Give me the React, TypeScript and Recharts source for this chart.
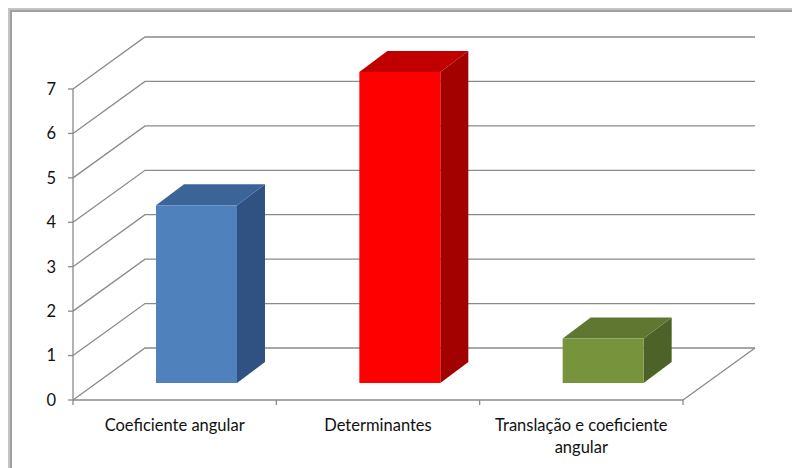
import React from "react";
import { BarChart, Bar, XAxis, YAxis, CartesianGrid, Text } from "recharts";

const categories = ["Coeficiente angular", "Determinantes", "Translação e coeficiente angular"];
const values = [4, 7, 1];
const yTicks = [0, 1, 2, 3, 4, 5, 6, 7];
const frontColors = ["#4F81BD", "#FF0000", "#77933C"];
const topColors = ["#3B6598", "#C00000", "#5F7731"];
const sideColors = ["#2F5283", "#A30000", "#4D6228"];

const data = categories.map((name, i) => ({ name, value: values[i] }));

const W = 792;
const H = 468;
const Y_AXIS_W = 60;
const MARGIN = { top: 89, right: 109, bottom: 28, left: 13 };
const X_AXIS_H = 40;
const PLOT_LEFT = MARGIN.left + Y_AXIS_W;
const PLOT_RIGHT = W - MARGIN.right;
const PLOT_BOTTOM = H - MARGIN.bottom - X_AXIS_H;
const BAND = (PLOT_RIGHT - PLOT_LEFT) / categories.length;

// floor depth
const DX = 72;
const DY = 52;
// bar placement inside depth
const FX = 22;
const FY = 17;
const BDX = 28;
const BDY = 21;

const GRID = "#8A8A8A";
const FONT = "Lato, 'Open Sans', sans-serif";
const FS = 16.5;

const Bar3D = (props: any) => {
  const { x, y, width, height, payload } = props;
  let i = props.index;
  if (typeof i !== "number") i = categories.indexOf(payload?.name);
  const fx = x + FX;
  const fy = y - FY;
  const top = `${fx},${fy} ${fx + BDX},${fy - BDY} ${fx + width + BDX},${fy - BDY} ${fx + width},${fy}`;
  const side = `${fx + width},${fy} ${fx + width + BDX},${fy - BDY} ${fx + width + BDX},${fy + height - BDY} ${fx + width},${fy + height}`;
  return (
    <g>
      <polygon points={side} fill={sideColors[i]} />
      <polygon points={top} fill={topColors[i]} />
      <rect x={fx} y={fy} width={width} height={height} fill={frontColors[i]} />
    </g>
  );
};

const XTick = (props: any) => {
  const { x, payload, index } = props;
  const half = BAND / 2;
  const last = index === categories.length - 1;
  return (
    <g>
      <line x1={x - half} y1={PLOT_BOTTOM} x2={x - half} y2={PLOT_BOTTOM + 5} stroke={GRID} strokeWidth={1.3} />
      {last && (
        <g>
          <line x1={x + half} y1={PLOT_BOTTOM} x2={x + half} y2={PLOT_BOTTOM + 5} stroke={GRID} strokeWidth={1.3} />
          <line x1={x + half} y1={PLOT_BOTTOM} x2={x + half + DX} y2={PLOT_BOTTOM - DY} stroke={GRID} strokeWidth={1.3} />
        </g>
      )}
      <Text
        x={x}
        y={PLOT_BOTTOM + 19}
        width={195}
        textAnchor="middle"
        verticalAnchor="start"
        lineHeight={22}
        fill="#111"
        fontSize={FS}
        fontFamily={FONT}
        style={{ fontSize: FS, fontFamily: FONT }}
      >
        {payload.value}
      </Text>
    </g>
  );
};

const gridLine = (p: any) => {
  const { x1, y1, x2 } = p;
  return (
    <path
      key={`g-${p.index}-${y1}`}
      d={`M${x1},${y1} L${x1 + DX},${y1 - DY} L${x2 + DX},${y1 - DY}`}
      fill="none"
      stroke={GRID}
      strokeWidth={1.3}
    />
  );
};

export default function App() {
  return (
    <div style={{ position: "absolute", left: 0, top: 0, width: W, height: H, background: "#fff", overflow: "hidden" }}>
      <div
        style={{
          position: "absolute",
          left: 8,
          top: 8,
          width: 900,
          height: 600,
          borderLeft: "2px solid #C4C4C4",
          borderTop: "2px solid #C4C4C4",
        }}
      />
      <div
        style={{
          position: "absolute",
          left: 10,
          top: 10,
          width: 900,
          height: 600,
          borderLeft: "2px solid #A0A0A0",
          borderTop: "2px solid #A0A0A0",
        }}
      />
      <div style={{ position: "absolute", left: 0, top: 0 }}>
        <BarChart width={W} height={H} data={data} margin={MARGIN} barCategoryGap="30%">
          <CartesianGrid vertical={false} horizontal={gridLine} />
          <YAxis
            type="number"
            domain={[0, 7]}
            ticks={yTicks}
            interval={0}
            width={Y_AXIS_W}
            axisLine={{ stroke: GRID, strokeWidth: 1.3 }}
            tickLine={{ stroke: GRID, strokeWidth: 1.3 }}
            tickSize={5}
            tickMargin={12}
            tick={{ fill: "#111", fontSize: FS, fontFamily: FONT }}
          />
          <XAxis
            dataKey="name"
            type="category"
            height={X_AXIS_H}
            interval={0}
            axisLine={{ stroke: GRID, strokeWidth: 1.3 }}
            tickLine={false}
            tick={<XTick />}
          />
          <Bar dataKey="value" isAnimationActive={false} shape={<Bar3D />} />
        </BarChart>
      </div>
    </div>
  );
}
